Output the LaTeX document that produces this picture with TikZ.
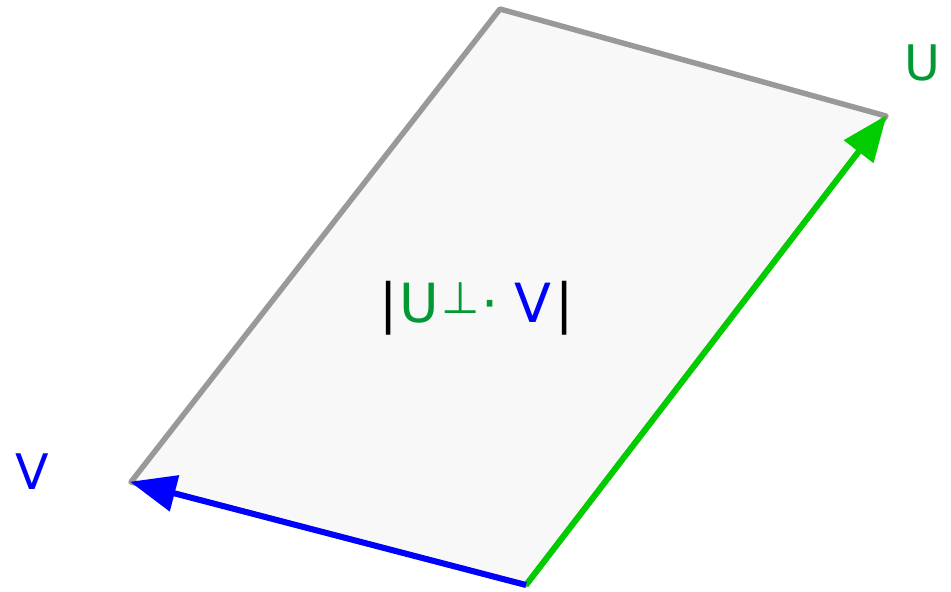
\documentclass[tikz,border=0pt]{standalone}
\usepackage{fontspec}
\setmainfont{DejaVu Sans}
\usetikzlibrary{arrows.meta}
\definecolor{edgegray}{HTML}{999999}
\definecolor{fillgray}{HTML}{F8F8F8}
\definecolor{vecgreen}{HTML}{00CC00}
\definecolor{labgreen}{HTML}{009933}
\definecolor{vecblue}{HTML}{0000FF}
\tikzset{
  vec/.style={line width=6pt, -{Triangle[length=46pt,width=36pt]}, shorten >=-1pt},
  lab/.style={font=\fontsize{49}{55}\selectfont, inner sep=0pt}
}
\begin{document}
\begin{tikzpicture}[x=1pt,y=-1pt]
\useasboundingbox (0,0) rectangle (951,592);
\coordinate (O) at (526,585);
\coordinate (Ut) at (886,116);
\coordinate (Vt) at (131,482);
\coordinate (T) at (500,9);
\filldraw[fill=fillgray, draw=edgegray, line width=5.5pt, line join=round] (O) -- (Ut) -- (T) -- (Vt) -- cycle;
\draw[vec, draw=vecgreen, fill=vecgreen] (O) -- (Ut);
\draw[vec, draw=vecblue, fill=vecblue] (O) -- (Vt);
\node[lab, text=labgreen, anchor=base] (ul) at (922,80) {U};
\node[lab, text=vecblue, anchor=base] (vl) at (32,489) {V};
\node[font=\fontsize{54}{60}\selectfont, inner sep=0pt, anchor=base west] (area) at (379,322)
  {|\kern2pt\textcolor{labgreen}{U\kern3pt\raisebox{9pt}{\fontsize{44}{46}\selectfont ⊥}\kern1pt·}\kern16pt\textcolor{vecblue}{V}\kern4pt|};
\end{tikzpicture}
\end{document}
